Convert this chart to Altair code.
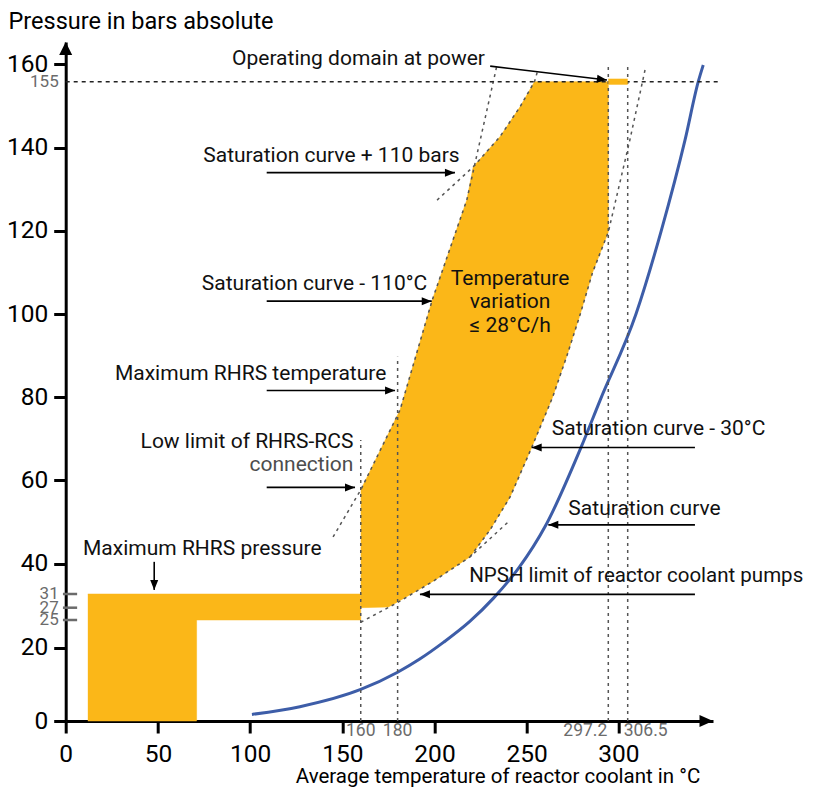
import altair as alt
import pandas as pd

ORANGE = "#FBB718"
BLUE = "#3D5DA8"
GRAY = "#6b6b6b"
DASH = "#555555"
FONT = "Roboto"

# ---------------- data ----------------
x_ticks = [0, 50, 100, 150, 200, 250, 300]
y_ticks = [0, 20, 40, 60, 80, 100, 120, 140, 160]
x_marks = [160, 180, 297.2, 306.5]
x_marks_text = ["160", "180", "297.2", "306.5"]
x_marks_align = ["center", "center", "right", "left"]
y_marks = [155, 31, 27, 25]
y_marks_text = ["155", "31", "27", "25"]

# RHRS operating region
rhrs_x = [12, 71, 71, 160, 160, 12]
rhrs_y = [0, 0, 25, 25, 31, 31]

# main operating domain
dom_x = [160, 175, 180, 200, 219.3, 230, 241, 253, 265, 273.3, 281, 288.1, 297.2,
         297.2, 254.5, 246.4, 235.5, 221, 217.5, 198.8, 181.3, 160]
dom_y = [27, 27.2, 28.7, 35, 41.6, 48, 56, 68, 80, 90, 100, 110, 119.7,
         155, 155, 149.3, 142.5, 135.4, 127.4, 103.4, 76.9, 57.7]

# saturation curve
sat_x = [101, 127, 160, 180, 192, 205, 219, 232, 246, 260.8, 281.6, 292.5, 311, 324.7, 337.6, 344.8, 347.5]
sat_y = [1.8, 3.9, 8.6, 13.3, 16.9, 21.0, 24.7, 29.8, 38.9, 49.0, 68.1, 79.3, 100, 120, 141.7, 155, 159.7]

# dashed limit curves
npsh_x = [160, 180, 200, 219.3, 241]
npsh_y = [24.6, 28.5, 35, 41.6, 50.4]
m110_x = [145, 160, 181.3, 198.8, 217.5, 233.9]
m110_y = [46.4, 57.7, 76.9, 103.4, 127.4, 159.7]
p110_x = [201.4, 221, 235.5, 246.4, 254.5, 256.1]
p110_y = [127.4, 135.4, 142.5, 149.3, 155, 157.7]
m30_x = [315.9, 307.7, 297.2, 288.1, 281, 273.3, 265, 253, 241, 230, 219.3]
m30_y = [158.3, 141.8, 119.7, 110, 100, 90, 80, 68, 56, 48, 41.6]

# vertical dotted limits
vline_x = [160, 180, 297.2, 306.5]
vline_top = [69.7, 89.7, 159.7, 159.7]
pressure_line = 155
pressure_line_end = 356.6
power_x = [297.2, 306.5]

# annotations
left_text = ["Operating domain at power", "Saturation curve + 110 bars", "Saturation curve - 110°C",
             "Maximum RHRS temperature", "Maximum RHRS pressure", "Saturation curve - 30°C",
             "Saturation curve"]
left_x = [90.2, 74.6, 73.8, 26.7, 9.4, 264.5, 274.1]
left_y = [159.7, 136.6, 105.8, 84.1, 42, 70.9, 51.7]
npsh_text = ["NPSH limit of reactor coolant pumps"]
npsh_tx = [218.8]
npsh_ty = [34.6]
right_text = ["Low limit of RHRS-RCS", "connection"]
right_x = [156, 156]
right_y = [67.7, 62.3]
right_color = ["#111111", "#4d4d4d"]
center_text = ["Temperature\nvariation\n≤ 28°C/h"]
center_x = [241]
center_y = [107]

arrow_x1 = [230.2, 109, 109, 109, 109, 48, 343, 343, 343]
arrow_y1 = [159.4, 134, 103.1, 81.6, 58.3, 40.4, 67.9, 49.3, 30.9]
arrow_x2 = [296.4, 211.1, 198.5, 178.6, 156.9, 48, 252.9, 262.5, 192.1]
arrow_y2 = [155.5, 134, 103.1, 81.6, 58.3, 32.2, 67.9, 49.3, 30.9]
arrow_dir = ["right", "right", "right", "right", "right", "down", "left", "left", "left"]
arrow_ang = [6.8, 0, 0, 0, 0, 0, 0, 0, 0]

gray_tick_x = [-1.5, 6.2]

# ---------------- scales / axes ----------------
xs = alt.Scale(domain=[0, 250, 297.2, 300, 306.5, 352.8],
               range=[0, 461, 542.6, 552.6, 562, 647.3], nice=False, zero=False)
ys = alt.Scale(domain=[0, 20, 25, 27, 31, 40, 140, 155, 160, 165.3],
               range=[679, 605.7, 578, 565.7, 552, 521.5, 105.7, 39.7, 22, 0],
               nice=False, zero=False)

xaxis = alt.Axis(values=x_ticks, title="Average temperature of reactor coolant in °C", grid=False,
                 domainColor="black", domainWidth=3, tickColor="black", tickWidth=3, tickSize=12,
                 labelFont=FONT, labelFontSize=24.5, labelColor="black", labelPadding=9,
                 labelFlush=False, labelOverlap=False,
                 titleFont=FONT, titleFontSize=20.5, titleFontWeight="normal", titleColor="black",
                 titleX=431.8, titleY=61, titleAlign="center", titleBaseline="alphabetic")
yaxis = alt.Axis(values=y_ticks, title="Pressure in bars absolute", grid=False,
                 domainColor="black", domainWidth=3, tickColor="black", tickWidth=3, tickSize=12,
                 labelFont=FONT, labelFontSize=24.5, labelColor="black", labelPadding=6,
                 labelFlush=False, labelOverlap=False,
                 titleFont=FONT, titleFontSize=23.5, titleFontWeight="normal", titleColor="black",
                 titleAngle=0, titleX=-57.7, titleY=-14, titleAlign="left", titleBaseline="alphabetic")


def X(f):
    return alt.X(f, type="quantitative", scale=xs, axis=xaxis)


def Y(f):
    return alt.Y(f, type="quantitative", scale=ys, axis=yaxis)


# ---------------- frames ----------------
poly_df = pd.DataFrame({
    "x": rhrs_x + dom_x,
    "y": rhrs_y + dom_y,
    "g": ["a"] * len(rhrs_x) + ["b"] * len(dom_x),
    "i": list(range(len(rhrs_x))) + list(range(len(dom_x))),
})
sat_df = pd.DataFrame({"x": sat_x, "y": sat_y})
dash_df = pd.DataFrame({
    "x": npsh_x + m110_x + p110_x + m30_x,
    "y": npsh_y + m110_y + p110_y + m30_y,
    "g": ["n"] * len(npsh_x) + ["m"] * len(m110_x) + ["p"] * len(p110_x) + ["t"] * len(m30_x),
    "i": list(range(len(npsh_x))) + list(range(len(m110_x))) + list(range(len(p110_x))) + list(range(len(m30_x))),
})
vline_df = pd.DataFrame({"x": vline_x, "y": [0] * len(vline_x), "y2": vline_top})
hline_df = pd.DataFrame({"x": [0], "x2": [pressure_line_end], "y": [pressure_line]})
power_df = pd.DataFrame({"x": [power_x[0]], "x2": [power_x[1]], "y": [pressure_line]})
arrow_df = pd.DataFrame({"x": arrow_x1, "y": arrow_y1, "x2": arrow_x2, "y2": arrow_y2,
                         "dir": arrow_dir, "ang": arrow_ang})
left_df = pd.DataFrame({"x": left_x, "y": left_y, "t": left_text})
npsh_df = pd.DataFrame({"x": npsh_tx, "y": npsh_ty, "t": npsh_text})
right_df = pd.DataFrame({"x": right_x, "y": right_y, "t": right_text, "c": right_color})
center_df = pd.DataFrame({"x": center_x, "y": center_y, "t": center_text})
xm_df = pd.DataFrame({"x": x_marks, "y": [0] * 4, "t": x_marks_text, "a": x_marks_align})
ym_df = pd.DataFrame({"x": [0] * 4, "y": y_marks, "t": y_marks_text})
gt_df = pd.DataFrame({"x": [gray_tick_x[0]] * 3, "x2": [gray_tick_x[1]] * 3, "y": y_marks[1:]})
axarrow_df = pd.DataFrame({"x": [352.8, 0], "y": [0, 165.3], "d": ["r", "u"]})

# ---------------- layers ----------------
polys = alt.Chart(poly_df).mark_line(fill=ORANGE, stroke=ORANGE, strokeWidth=0.5, fillOpacity=1).encode(
    x=X("x"), y=Y("y"), detail="g:N", order=alt.Order("i:Q"))

sat = alt.Chart(sat_df).mark_line(color=BLUE, strokeWidth=3, interpolate="monotone").encode(
    x=X("x"), y=Y("y"))

dashed = alt.Chart(dash_df).mark_line(color=DASH, strokeWidth=1.5, strokeDash=[3, 4]).encode(
    x=X("x"), y=Y("y"), detail="g:N", order=alt.Order("i:Q"))

vlines = alt.Chart(vline_df).mark_rule(color=DASH, strokeWidth=1.5, strokeDash=[3, 4]).encode(
    x=X("x"), y=Y("y"), y2="y2")

hline = alt.Chart(hline_df).mark_rule(color="#222222", strokeWidth=1.5, strokeDash=[4, 4]).encode(
    x=X("x"), x2="x2", y=Y("y"))

power = alt.Chart(power_df).mark_rule(color=ORANGE, strokeWidth=6).encode(
    x=X("x"), x2="x2", y=Y("y"))

arrows = alt.Chart(arrow_df).mark_rule(color="black", strokeWidth=1.6).encode(
    x=X("x"), y=Y("y"), x2="x2", y2="y2")

head_base = alt.Chart(arrow_df)
heads_r = head_base.transform_filter(alt.datum.dir == "right").mark_point(
    shape="M0,0L-1,-0.4L-1,0.4Z", filled=True, color="black", size=400, opacity=1, strokeWidth=0).encode(
    x=X("x2"), y=Y("y2"), angle=alt.Angle("ang:Q", scale=None))
heads_l = head_base.transform_filter(alt.datum.dir == "left").mark_point(
    shape="M0,0L1,-0.4L1,0.4Z", filled=True, color="black", size=400, opacity=1, strokeWidth=0).encode(
    x=X("x2"), y=Y("y2"))
heads_d = head_base.transform_filter(alt.datum.dir == "down").mark_point(
    shape="M0,0L-0.4,-1L0.4,-1Z", filled=True, color="black", size=400, opacity=1, strokeWidth=0).encode(
    x=X("x2"), y=Y("y2"))

ax_r = alt.Chart(axarrow_df).transform_filter(alt.datum.d == "r").mark_point(
    shape="M0,0L-1,-0.45L-1,0.45Z", filled=True, color="black", size=729, opacity=1, strokeWidth=0).encode(
    x=X("x"), y=Y("y"))
ax_u = alt.Chart(axarrow_df).transform_filter(alt.datum.d == "u").mark_point(
    shape="M0,0L0.5,1L-0.5,1Z", filled=True, color="black", size=676, opacity=1, strokeWidth=0).encode(
    x=X("x"), y=Y("y"))

t_left = alt.Chart(left_df).mark_text(align="left", baseline="alphabetic", font=FONT, fontSize=21,
                                      color="#111111").encode(x=X("x"), y=Y("y"), text="t:N")
t_npsh = alt.Chart(npsh_df).mark_text(align="left", baseline="alphabetic", font=FONT, fontSize=20.5,
                                      color="#111111").encode(x=X("x"), y=Y("y"), text="t:N")
t_right = alt.Chart(right_df).mark_text(align="right", baseline="alphabetic", font=FONT, fontSize=21).encode(
    x=X("x"), y=Y("y"), text="t:N", color=alt.Color("c:N", scale=None))
t_center = alt.Chart(center_df).mark_text(align="center", baseline="alphabetic", font=FONT, fontSize=21,
                                          lineBreak="\n", lineHeight=23.5, color="#111111").encode(
    x=X("x"), y=Y("y"), text="t:N")

xm_c = alt.Chart(xm_df).transform_filter(alt.datum.a == "center").mark_text(
    align="center", baseline="top", dy=1, font=FONT, fontSize=17.5, color=GRAY).encode(
    x=X("x"), y=Y("y"), text="t:N")
xm_r = alt.Chart(xm_df).transform_filter(alt.datum.a == "right").mark_text(
    align="right", baseline="top", dy=1, dx=-1, font=FONT, fontSize=17.5, color=GRAY).encode(
    x=X("x"), y=Y("y"), text="t:N")
xm_l = alt.Chart(xm_df).transform_filter(alt.datum.a == "left").mark_text(
    align="left", baseline="top", dy=1, dx=-4, font=FONT, fontSize=17.5, color=GRAY).encode(
    x=X("x"), y=Y("y"), text="t:N")
ym_t = alt.Chart(ym_df).mark_text(align="right", baseline="middle", dx=-7, font=FONT, fontSize=17,
                                  color=GRAY).encode(x=X("x"), y=Y("y"), text="t:N")
gticks = alt.Chart(gt_df).mark_rule(color=GRAY, strokeWidth=2.5).encode(x=X("x"), x2="x2", y=Y("y"))

chart = alt.layer(
    polys, sat, dashed, vlines, hline, power, arrows, heads_r, heads_l, heads_d,
    gticks, ax_r, ax_u, t_left, t_npsh, t_right, t_center, xm_c, xm_r, xm_l, ym_t
).properties(
    width=647.3, height=679,
    padding={"left": 57.7, "top": 34, "right": 92, "bottom": 68},
    autosize=alt.AutoSizeParams(type="none"),
    background="white",
).configure_view(stroke=None)

chart.save("out.html", embed_options={"renderer": "svg", "actions": False})
